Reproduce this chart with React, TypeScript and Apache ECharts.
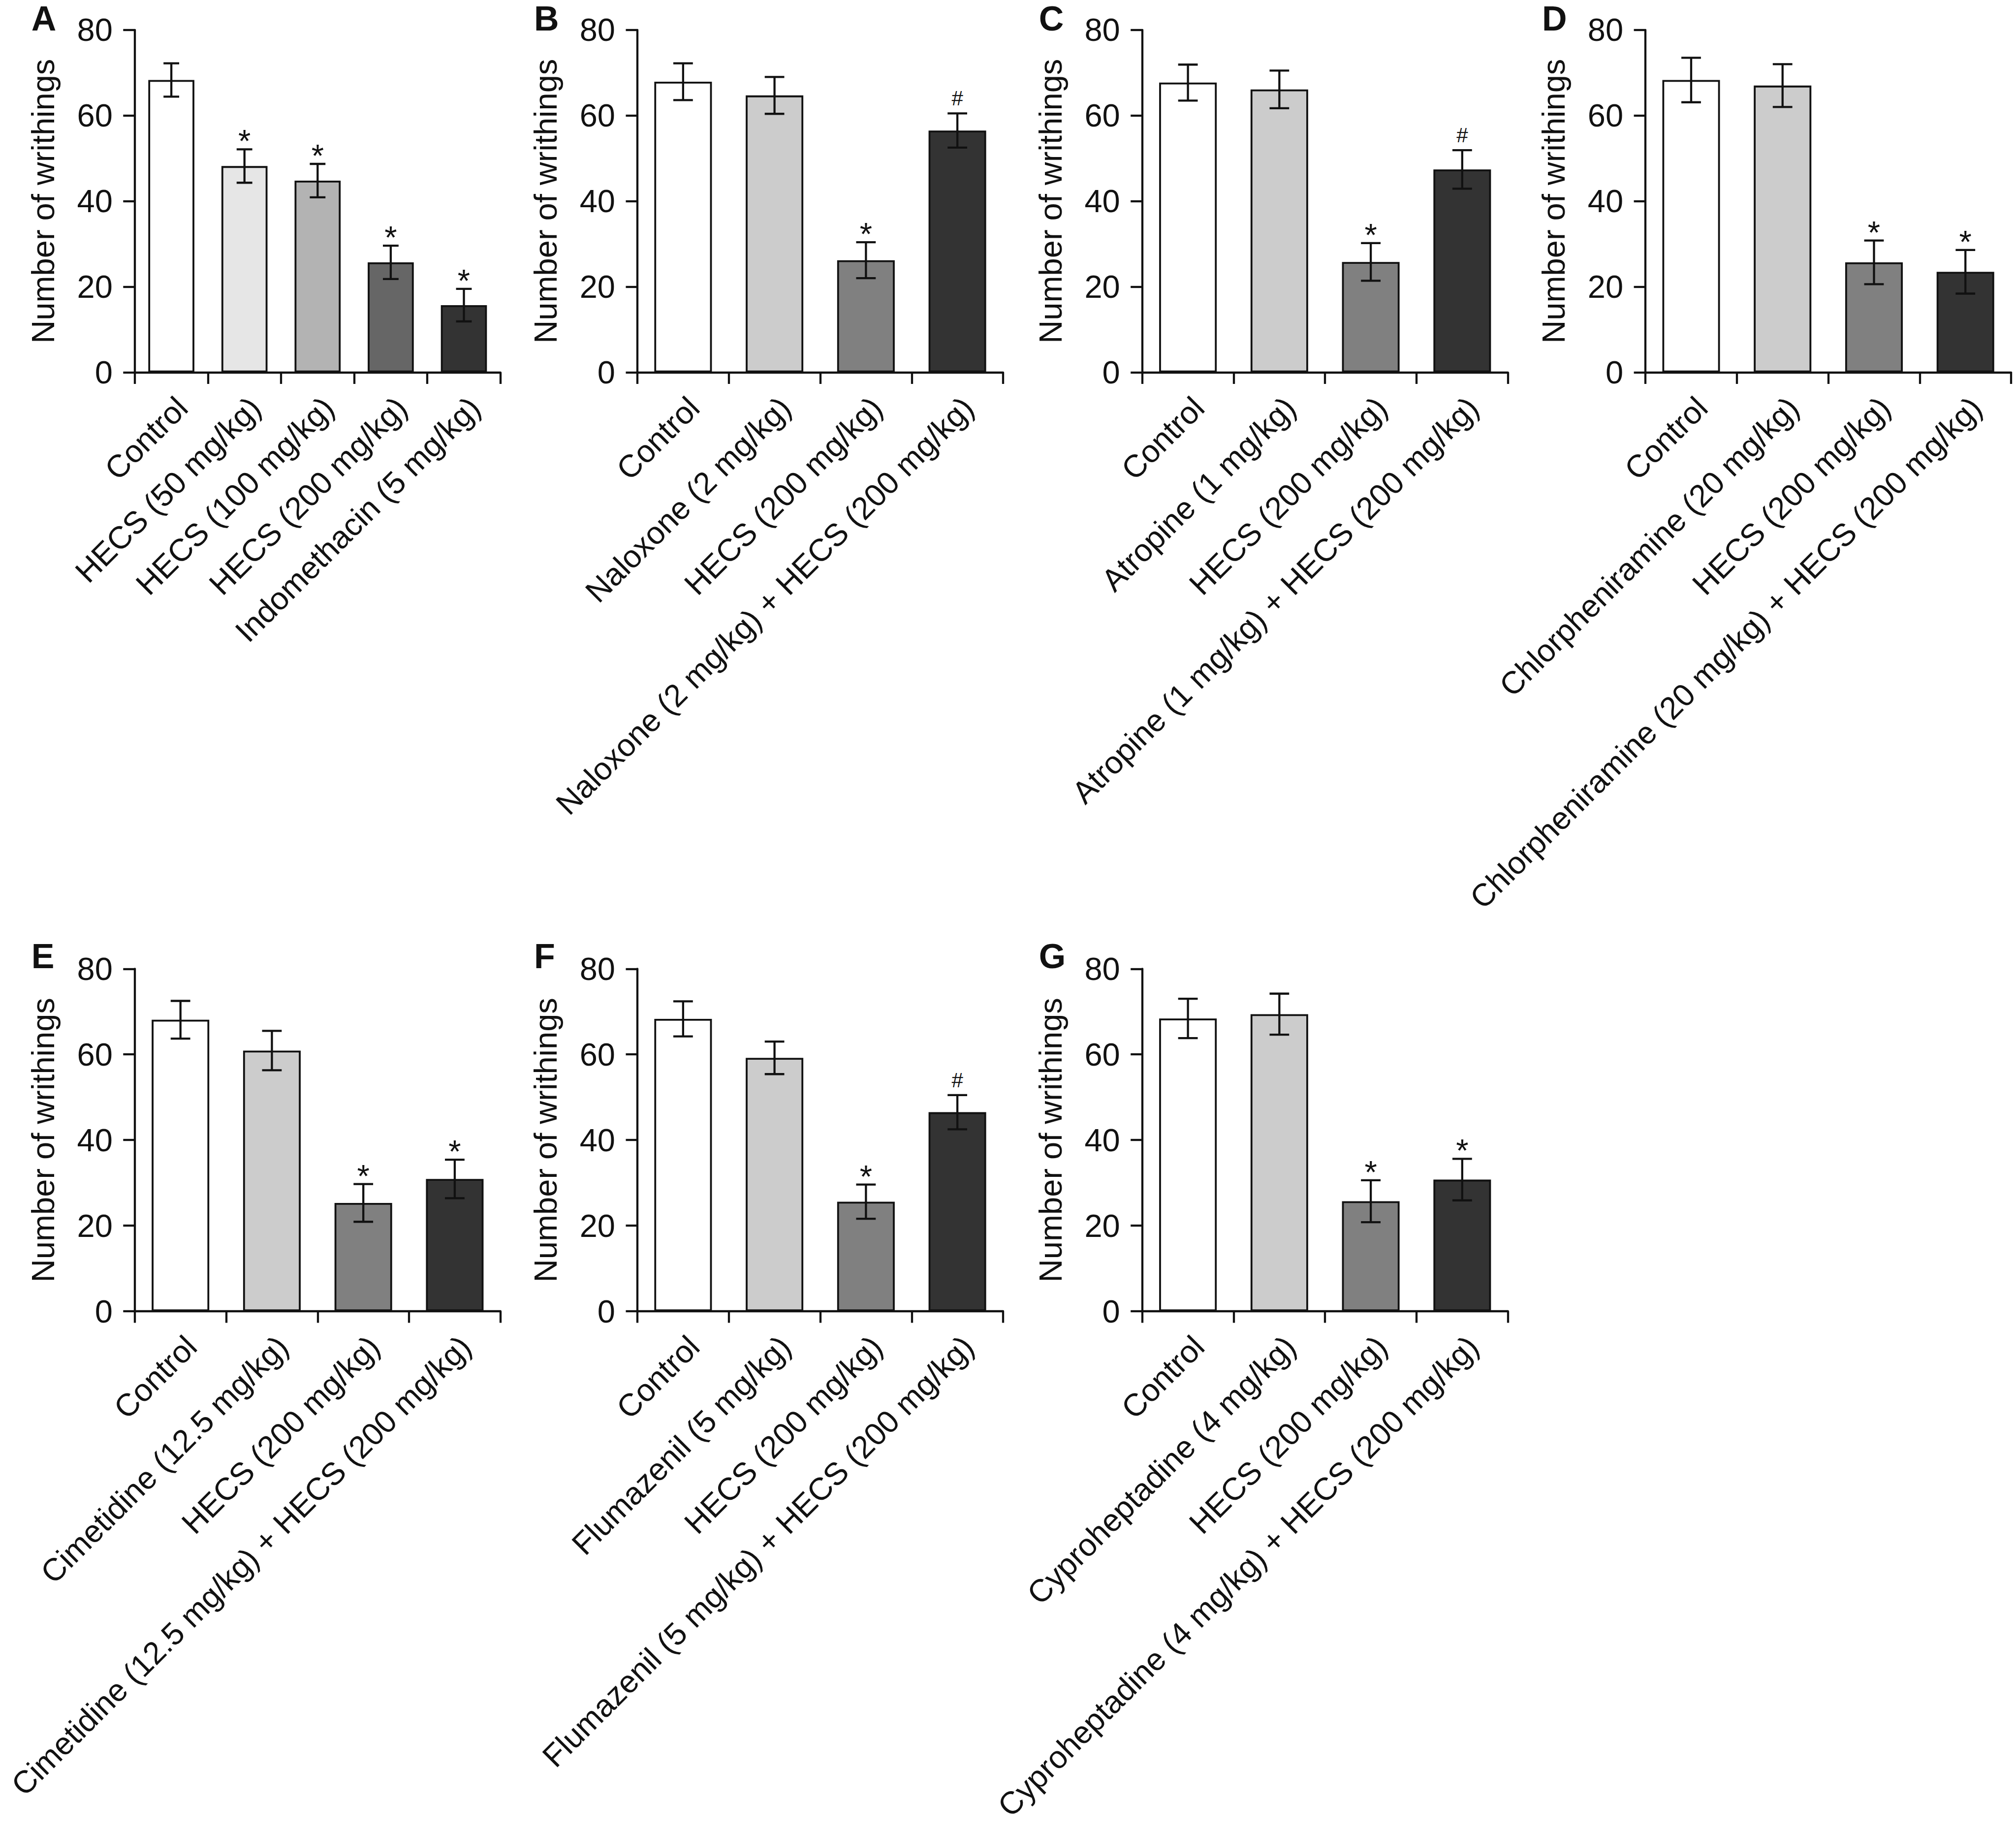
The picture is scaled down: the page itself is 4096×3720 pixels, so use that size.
import React, { useEffect, useRef } from "react";
import * as echarts from "echarts";

// ---------- data ----------
const catsA = ["Control", "HECS (50 mg/kg)", "HECS (100 mg/kg)", "HECS (200 mg/kg)", "Indomethacin (5 mg/kg)"];
const meanA = [68.3, 48.2, 44.8, 25.7, 15.7];
const errA = [3.9, 3.9, 3.9, 3.9, 3.8];
const markA = ["", "*", "*", "*", "*"];

const catsB = ["Control", "Naloxone (2 mg/kg)", "HECS (200 mg/kg)", "Naloxone (2 mg/kg) + HECS (200 mg/kg)"];
const meanB = [67.9, 64.7, 26.2, 56.5];
const errB = [4.3, 4.3, 4.2, 4.0];
const markB = ["", "", "*", "#"];

const catsC = ["Control", "Atropine (1 mg/kg)", "HECS (200 mg/kg)", "Atropine (1 mg/kg) + HECS (200 mg/kg)"];
const meanC = [67.7, 66.1, 25.8, 47.4];
const errC = [4.2, 4.4, 4.4, 4.5];
const markC = ["", "", "*", "#"];

const catsD = ["Control", "Chlorpheniramine (20 mg/kg)", "HECS (200 mg/kg)", "Chlorpheniramine (20 mg/kg) + HECS (200 mg/kg)"];
const meanD = [68.3, 67.0, 25.7, 23.5];
const errD = [5.2, 5.0, 5.1, 5.1];
const markD = ["", "", "*", "*"];

const catsE = ["Control", "Cimetidine (12.5 mg/kg)", "HECS (200 mg/kg)", "Cimetidine (12.5 mg/kg) + HECS (200 mg/kg)"];
const meanE = [68.1, 60.9, 25.3, 30.9];
const errE = [4.4, 4.6, 4.4, 4.5];
const markE = ["", "", "*", "*"];

const catsF = ["Control", "Flumazenil (5 mg/kg)", "HECS (200 mg/kg)", "Flumazenil (5 mg/kg) + HECS (200 mg/kg)"];
const meanF = [68.3, 59.2, 25.6, 46.5];
const errF = [4.1, 3.8, 4.0, 4.0];
const markF = ["", "", "*", "#"];

const catsG = ["Control", "Cyproheptadine (4 mg/kg)", "HECS (200 mg/kg)", "Cyproheptadine (4 mg/kg) + HECS (200 mg/kg)"];
const meanG = [68.4, 69.4, 25.7, 30.75];
const errG = [4.6, 4.8, 4.9, 4.85];
const markG = ["", "", "*", "*"];

const colorsA = ["#ffffff", "#e6e6e6", "#b3b3b3", "#666666", "#333333"];
const colorsB = ["#ffffff", "#cccccc", "#808080", "#333333"];

const yTicks = { min: 0, max: 80, interval: 20 };
const yTitle = "Number of writhings";
const panelLetters = ["A", "B", "C", "D", "E", "F", "G"];

// ---------- layout / style ----------
const FONT = "'Liberation Sans', Arial, Helvetica, sans-serif";
const INK = "#111111";
const ROW_TOP = [60.8, 1968.3];
const PLOT_H = 695.7;
const COL_LEFT = [273.8, 1295, 2320.7, 3343.1];
const PLOT_W = 743;
const LW = 4.3;
const CAT_FS = 64;

const panels = [
  { cats: catsA, mean: meanA, err: errA, mark: markA, colors: colorsA, row: 0, col: 0 },
  { cats: catsB, mean: meanB, err: errB, mark: markB, colors: colorsB, row: 0, col: 1 },
  { cats: catsC, mean: meanC, err: errC, mark: markC, colors: colorsB, row: 0, col: 2 },
  { cats: catsD, mean: meanD, err: errD, mark: markD, colors: colorsB, row: 0, col: 3 },
  { cats: catsE, mean: meanE, err: errE, mark: markE, colors: colorsB, row: 1, col: 0 },
  { cats: catsF, mean: meanF, err: errF, mark: markF, colors: colorsB, row: 1, col: 1 },
  { cats: catsG, mean: meanG, err: errG, mark: markG, colors: colorsB, row: 1, col: 2 },
];

const BAR_RATIO = 0.63;
const CAP_RATIO = 0.34;

function buildOption() {
  const grid: any[] = [];
  const xAxis: any[] = [];
  const yAxis: any[] = [];
  const series: any[] = [];
  const graphic: any[] = [];

  panels.forEach((p, k) => {
    const left = COL_LEFT[p.col];
    const top = ROW_TOP[p.row];
    grid.push({ left, top, width: PLOT_W, height: PLOT_H, containLabel: false });
    xAxis.push({
      type: "category",
      gridIndex: k,
      data: p.cats,
      axisLine: { show: true, lineStyle: { color: INK, width: LW } },
      axisTick: { show: true, alignWithLabel: false, interval: 0, length: 23.5, lineStyle: { color: INK, width: LW } },
      axisLabel: {
        interval: 0,
        rotate: 45,
        margin: 83,
        padding: [0, -31, 0, 0],
        fontSize: CAT_FS,
        fontFamily: FONT,
        color: INK,
      },
      splitLine: { show: false },
    });
    yAxis.push({
      type: "value",
      gridIndex: k,
      min: yTicks.min,
      max: yTicks.max,
      interval: yTicks.interval,
      name: yTitle,
      nameLocation: "middle",
      nameGap: 154,
      nameRotate: 90,
      nameTextStyle: { fontSize: 65, fontFamily: FONT, color: INK },
      axisLine: { show: true, lineStyle: { color: INK, width: LW } },
      axisTick: { show: true, length: 23.5, lineStyle: { color: INK, width: LW } },
      axisLabel: { fontSize: 65, fontFamily: FONT, color: INK, margin: 45 },
      splitLine: { show: false },
    });
    series.push({
      type: "bar",
      xAxisIndex: k,
      yAxisIndex: k,
      barWidth: BAR_RATIO * 100 + "%",
      data: p.mean.map((v, i) => ({ value: v, itemStyle: { color: p.colors[i] } })),
      itemStyle: { borderColor: INK, borderWidth: 3.8 },
      silent: true,
    });
    const marks = p.mark;
    series.push({
      type: "custom",
      xAxisIndex: k,
      yAxisIndex: k,
      z: 10,
      silent: true,
      data: p.mean.map((m, i) => [i, m, p.err[i]]),
      renderItem: (params: any, api: any) => {
        const i = api.value(0);
        const m = api.value(1);
        const e = api.value(2);
        const pt = api.coord([i, m + e]);
        const pb = api.coord([i, m - e]);
        const band = api.size([1, 0])[0];
        const half = (band * BAR_RATIO * CAP_RATIO) / 2;
        const style = { stroke: INK, lineWidth: LW };
        const children: any[] = [
          { type: "line", shape: { x1: pt[0], y1: pt[1], x2: pb[0], y2: pb[1] }, style },
          { type: "line", shape: { x1: pt[0] - half, y1: pt[1], x2: pt[0] + half, y2: pt[1] }, style },
          { type: "line", shape: { x1: pb[0] - half, y1: pb[1], x2: pb[0] + half, y2: pb[1] }, style },
        ];
        const mk = marks[params.dataIndex];
        if (mk) {
          const isHash = mk === "#";
          children.push({
            type: "text",
            style: {
              text: mk,
              x: pt[0],
              y: pt[1] - (isHash ? 30.7 : 16.5),
              fill: INK,
              fontSize: isHash ? 42 : 65,
              fontFamily: FONT,
              align: "center",
              verticalAlign: "middle",
            },
          });
        }
        return { type: "group", children };
      },
    });
    graphic.push({
      type: "text",
      x: left - 210,
      y: (p.row === 0 ? 62.5 : 1967) - 0.3465 * 70,
      style: {
        text: panelLetters[k],
        fontSize: 70,
        fontWeight: "bold",
        fontFamily: FONT,
        fill: INK,
        verticalAlign: "middle",
        align: "left",
      },
    });
  });

  return {
    animation: false,
    backgroundColor: "#ffffff",
    grid,
    xAxis,
    yAxis,
    series,
    graphic,
  };
}

export default function App() {
  const ref = useRef<HTMLDivElement>(null);
  useEffect(() => {
    document.body.style.margin = "0";
    if (!ref.current) return;
    const chart = echarts.init(ref.current, undefined, { renderer: "svg" });
    chart.setOption(buildOption() as any);
    return () => chart.dispose();
  }, []);
  return <div ref={ref} style={{ width: 4096, height: 3720 }} />;
}
